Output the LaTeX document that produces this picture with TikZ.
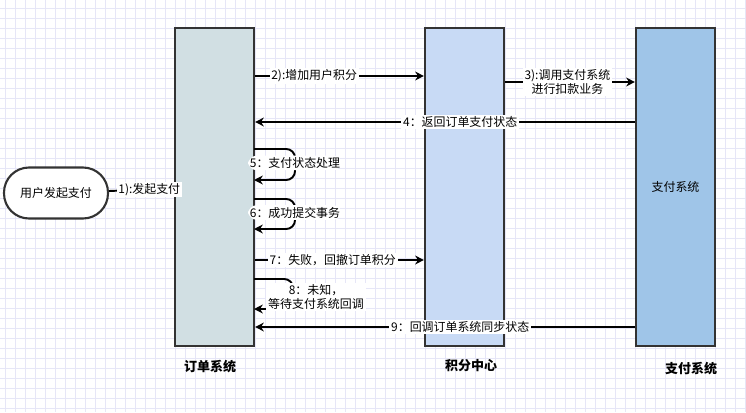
\documentclass[tikz,border=0pt]{standalone}
\usepackage{fontspec}
\setmainfont{Noto Sans CJK SC}
\usetikzlibrary{arrows.meta,positioning,calc}
\definecolor{OrderFill}{HTML}{D1DFE3}
\definecolor{PointsFill}{HTML}{C8DAF5}
\definecolor{PayFill}{HTML}{9FC5E8}
\definecolor{BoxLine}{HTML}{333333}
\definecolor{GridLine}{HTML}{E6E6F7}
\tikzset{
    % system lane box
    lanebox/.style={
        draw=BoxLine,
        line width=1.2pt,
        minimum width=1.58cm,
        minimum height=6.36cm,
        font=\fontsize{6.8}{8}\selectfont
    },
    % start node
    startnode/.style={
        draw=BoxLine,
        fill=white,
        line width=1.2pt,
        rounded corners=0.5cm,
        minimum width=2.08cm,
        minimum height=1.02cm,
        font=\fontsize{6.8}{8}\selectfont
    },
    % lane title
    lanetitle/.style={
        font=\fontsize{7.4}{9}\selectfont\bfseries
    },
    % message arrow
    msgarrow/.style={
        -{Stealth[length=5pt,width=5pt]},
        line width=1.1pt,
        draw=black
    },
    % message label
    msglabel/.style={
        fill=white,
        inner sep=1pt,
        align=center,
        font=\fontsize{6.8}{8}\selectfont
    }
}
\begin{document}
\begin{tikzpicture}[x=0.02cm,y=-0.02cm]
    \useasboundingbox (0,0) rectangle (746,412);
    % background grid
    \foreach \gx in {5,15,...,745}
        \draw[GridLine,line width=0.4pt] (\gx,0) -- (\gx,412);
    \foreach \gy in {8,18,...,408}
        \draw[GridLine,line width=0.4pt] (0,\gy) -- (746,\gy);

    \node[startnode] (user) at (56,193) {用户发起支付};
    \node[lanebox,fill=OrderFill] (order) at (214.5,187) {};
    \node[lanebox,fill=PointsFill] (points) at (464.5,187) {};
    \node[lanebox,fill=PayFill] (pay) at (675.5,187) {支付系统};

    \node[lanetitle] (ordertitle) at (210,367) {订单系统};
    \node[lanetitle] (pointstitle) at (471,366) {积分中心};
    \node[lanetitle] (paytitle) at (691,369) {支付系统};

    % loop corners
    \coordinate (l5a) at (254,149);
    \coordinate (l5b) at (254,180);
    \coordinate (l6a) at (254,199);
    \coordinate (l6b) at (254,229);
    \coordinate (l8a) at (254,279);
    \coordinate (l8b) at (254,309);

    \draw[msgarrow] (user) -- node[msglabel,pos=0.62] {1):发起支付} (order);
    \draw[msgarrow] (order.east |- 0,76) -- node[msglabel,pos=0.35] {2):增加用户积分} (points.west |- 0,76);
    \draw[msgarrow] (points.east |- 0,82) -- node[msglabel,pos=0.48] {3):调用支付系统\\进行扣款业务} (pay.west |- 0,82);
    \draw[msgarrow] (pay.west |- 0,122) -- node[msglabel,pos=0.46] {4：返回订单支付状态} (order.east |- 0,122);
    \draw[msgarrow,rounded corners=5pt] (l5a) -- (295,149) -- node[msglabel,pos=0.45] {5：支付状态处理} (295,180) -- (l5b);
    \draw[msgarrow,rounded corners=5pt] (l6a) -- (295,199) -- node[msglabel,pos=0.45] {6：成功提交事务} (295,229) -- (l6b);
    \draw[msgarrow] (order.east |- 0,260) -- node[msglabel,pos=0.46] {7：失败，回撤订单积分} (points.west |- 0,260);
    \draw[msgarrow,rounded corners=5pt] (l8a) -- (293,279) -- (293,309) -- (l8b);
    \node[msglabel] (l8text) at (316,297) {8：未知，\\等待支付系统回调};
    \draw[msgarrow] (pay.west |- 0,327) -- node[msglabel,pos=0.46] {9：回调订单系统同步状态} (order.east |- 0,327);
\end{tikzpicture}
\end{document}
